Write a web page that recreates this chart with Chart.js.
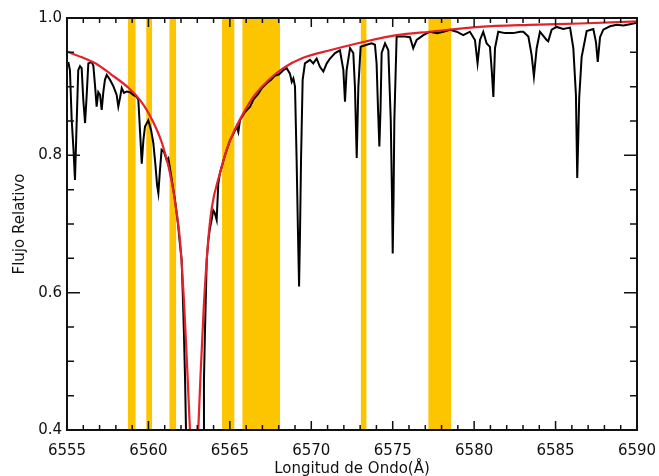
<!DOCTYPE html>
<html>
<head>
<meta charset="utf-8">
<script src="https://cdn.jsdelivr.net/npm/chart.js@4.4.1/dist/chart.umd.min.js"></script>
<style>
  html, body { margin: 0; padding: 0; background: #fff; }
  #wrap { width: 659px; height: 476px; }
</style>
</head>
<body>
<div id="wrap"><canvas id="spectrumChart" width="659" height="476"></canvas></div>
<script>
// masked wavelength windows (yellow)
var bandStart = [6558.73, 6559.86, 6561.28, 6564.52, 6565.76, 6573.03, 6577.18];
var bandEnd   = [6559.22, 6560.22, 6561.71, 6565.29, 6568.08, 6573.40, 6578.60];

// observed spectrum (black)
var specWave = [
  6555.08, 6555.18, 6555.29, 6555.40, 6555.49, 6555.58, 6555.69, 6555.80, 6555.90, 6556.00,
  6556.11, 6556.21, 6556.31, 6556.52, 6556.62, 6556.72, 6556.82, 6556.92, 6557.03, 6557.13,
  6557.23, 6557.33, 6557.44, 6557.64, 6557.84, 6558.05, 6558.15, 6558.25, 6558.36, 6558.50,
  6558.67, 6558.87, 6559.07, 6559.28, 6559.38, 6559.48, 6559.59, 6559.69, 6559.79, 6559.99,
  6560.16, 6560.30, 6560.43, 6560.53, 6560.61, 6560.71, 6560.81, 6560.96, 6561.12, 6561.22,
  6561.39, 6561.63, 6561.82, 6561.94, 6562.04, 6562.12, 6562.18, 6562.25, 6562.31, 6562.37,
  6562.80, 6563.32, 6563.37, 6563.41, 6563.47, 6563.58, 6563.68, 6563.78, 6563.88, 6563.98,
  6564.06, 6564.19, 6564.29, 6564.39, 6564.70, 6565.01, 6565.25, 6565.42, 6565.52, 6565.62,
  6565.93, 6566.24, 6566.44, 6566.73, 6566.97, 6567.26, 6567.53, 6567.77, 6568.02, 6568.28,
  6568.49, 6568.69, 6568.80, 6568.90, 6569.00, 6569.10, 6569.18, 6569.25, 6569.31, 6569.37,
  6569.47, 6569.61, 6569.92, 6570.12, 6570.33, 6570.53, 6570.74, 6570.95, 6571.15, 6571.46,
  6571.76, 6571.97, 6572.07, 6572.17, 6572.38, 6572.58, 6572.68, 6572.79, 6572.89, 6573.03,
  6573.40, 6573.71, 6573.91, 6574.01, 6574.10, 6574.18, 6574.25, 6574.32, 6574.53, 6574.73,
  6574.88, 6574.96, 6575.00, 6575.05, 6575.10, 6575.24, 6575.45, 6575.75, 6576.06, 6576.26,
  6576.47, 6576.88, 6577.29, 6577.72, 6578.11, 6578.52, 6578.93, 6579.33, 6579.74, 6580.05,
  6580.21, 6580.36, 6580.56, 6580.77, 6580.97, 6581.08, 6581.18, 6581.28, 6581.48, 6581.90,
  6582.40, 6582.82, 6583.02, 6583.33, 6583.53, 6583.67, 6583.84, 6584.04, 6584.45, 6584.55,
  6584.76, 6585.07, 6585.47, 6585.89, 6586.09, 6586.25, 6586.33, 6586.39, 6586.45, 6586.60,
  6586.91, 6587.32, 6587.48, 6587.59, 6587.73, 6587.93, 6588.34, 6588.75, 6589.16, 6589.57,
  6589.98
];
var specFlux = [
  0.936, 0.924, 0.851, 0.808, 0.764, 0.837, 0.924, 0.930, 0.927, 0.881,
  0.847, 0.888, 0.934, 0.936, 0.930, 0.902, 0.871, 0.892, 0.888, 0.866,
  0.892, 0.910, 0.917, 0.910, 0.901, 0.888, 0.871, 0.883, 0.898, 0.891,
  0.893, 0.892, 0.888, 0.885, 0.881, 0.837, 0.788, 0.822, 0.842, 0.851,
  0.837, 0.818, 0.786, 0.757, 0.745, 0.779, 0.808, 0.805, 0.793, 0.796,
  0.771, 0.735, 0.699, 0.669, 0.648, 0.589, 0.541, 0.473, 0.396, 0.350,
  0.300, 0.342, 0.395, 0.473, 0.541, 0.648, 0.677, 0.694, 0.706, 0.720,
  0.717, 0.706, 0.759, 0.774, 0.800, 0.822, 0.833, 0.842, 0.834, 0.851,
  0.863, 0.871, 0.881, 0.889, 0.898, 0.905, 0.910, 0.916, 0.918, 0.924,
  0.927, 0.919, 0.907, 0.912, 0.900, 0.793, 0.691, 0.609, 0.691, 0.793,
  0.910, 0.934, 0.939, 0.934, 0.941, 0.929, 0.922, 0.934, 0.941, 0.949,
  0.953, 0.924, 0.878, 0.924, 0.956, 0.949, 0.900, 0.796, 0.900, 0.958,
  0.961, 0.963, 0.961, 0.934, 0.866, 0.813, 0.866, 0.949, 0.963, 0.953,
  0.851, 0.735, 0.657, 0.735, 0.851, 0.973, 0.973, 0.973, 0.972, 0.956,
  0.968, 0.975, 0.980, 0.978, 0.980, 0.983, 0.980, 0.975, 0.980, 0.968,
  0.934, 0.968, 0.980, 0.963, 0.958, 0.924, 0.885, 0.956, 0.980, 0.978,
  0.978, 0.980, 0.980, 0.973, 0.946, 0.915, 0.956, 0.980, 0.968, 0.966,
  0.983, 0.987, 0.984, 0.986, 0.956, 0.888, 0.767, 0.822, 0.883, 0.943,
  0.981, 0.984, 0.965, 0.936, 0.972, 0.983, 0.988, 0.990, 0.989, 0.991,
  0.993
];

// fitted profile (red)
var fitWave = [
  6555.00, 6556.00, 6556.74, 6557.70, 6558.79, 6559.50, 6560.02, 6560.50, 6560.83, 6561.20,
  6561.45, 6561.70, 6561.94, 6562.20, 6562.40, 6562.55, 6562.80, 6563.06, 6563.20, 6563.40,
  6563.67, 6563.90, 6564.39, 6564.80, 6565.20, 6565.80, 6566.44, 6567.30, 6568.28, 6569.50,
  6571.15, 6573.19, 6575.24, 6577.28, 6580.35, 6583.40, 6586.50, 6590.00
];
var fitFlux = [
  0.951, 0.942, 0.934, 0.918, 0.898, 0.880, 0.861, 0.838, 0.818, 0.787,
  0.759, 0.722, 0.676, 0.580, 0.480, 0.400, 0.280, 0.400, 0.480, 0.580,
  0.676, 0.725, 0.774, 0.808, 0.832, 0.860, 0.885, 0.908, 0.927, 0.942,
  0.953, 0.965, 0.975, 0.980, 0.987, 0.990, 0.992, 0.995
];

// axis ticks
var xTickStep = 5, xMinorStep = 1;
var yTickStep = 0.2, yMinorStep = 0.05;

function pairs(xs, ys) {
  return xs.map(function (v, i) { return { x: v, y: ys[i] }; });
}

var datasets = [
  {
    data: pairs(fitWave, fitFlux),
    borderColor: '#e3222b',
    borderWidth: 2.2,
    pointRadius: 0,
    cubicInterpolationMode: 'monotone',
    fill: false
  },
  {
    data: pairs(specWave, specFlux),
    borderColor: '#000',
    borderWidth: 2,
    pointRadius: 0,
    tension: 0,
    fill: false
  }
];
bandStart.forEach(function (s, i) {
  datasets.push({
    data: [{ x: s, y: 1.0 }, { x: bandEnd[i], y: 1.0 }],
    borderWidth: 0,
    borderColor: 'rgba(0,0,0,0)',
    backgroundColor: '#fdc400',
    pointRadius: 0,
    fill: 'start'
  });
});

// IDL-style frame with inward ticks on all four sides
var frameTicks = {
  id: 'frameTicks',
  afterDatasetsDraw: function (chart) {
    var ctx = chart.ctx, a = chart.chartArea;
    var x = chart.scales.x, y = chart.scales.y;
    ctx.save();
    ctx.strokeStyle = '#111';
    ctx.lineWidth = 1.5;
    ctx.beginPath();
    var nx = Math.round((x.max - x.min) / xMinorStep);
    for (var i = 0; i <= nx; i++) {
      var px = x.getPixelForValue(x.min + i * xMinorStep);
      var len = (i % (xTickStep / xMinorStep) === 0) ? 9 : 5;
      ctx.moveTo(px, a.bottom); ctx.lineTo(px, a.bottom - len);
      ctx.moveTo(px, a.top); ctx.lineTo(px, a.top + len);
    }
    var ny = Math.round((y.max - y.min) / yMinorStep);
    for (var k = 0; k <= ny; k++) {
      var py = y.getPixelForValue(y.min + k * yMinorStep);
      var l2 = (k % Math.round(yTickStep / yMinorStep) === 0) ? 13 : 7;
      ctx.moveTo(a.left, py); ctx.lineTo(a.left + l2, py);
      ctx.moveTo(a.right, py); ctx.lineTo(a.right - l2, py);
    }
    ctx.stroke();
    ctx.lineWidth = 2;
    ctx.strokeRect(a.left, a.top, a.right - a.left, a.bottom - a.top);
    ctx.restore();
  }
};

var font = { family: 'DejaVu Sans', size: 15 };
var titleFont = { family: 'DejaVu Sans', size: 15, lineHeight: 1 };

var ctx = document.getElementById('spectrumChart').getContext('2d');
var chart = new Chart(ctx, {
  type: 'line',
  data: { datasets: datasets },
  options: {
    responsive: false,
    animation: false,
    layout: { padding: { left: 0, right: 22, top: 18, bottom: 0 } },
    plugins: {
      legend: { display: false },
      tooltip: { enabled: false },
      filler: { propagate: false }
    },
    scales: {
      x: {
        type: 'linear',
        min: 6555,
        max: 6590,
        grid: { display: false, drawTicks: false },
        border: { display: false },
        ticks: {
          stepSize: xTickStep,
          autoSkip: false,
          maxRotation: 0,
          padding: 12,
          color: '#111',
          font: font,
          callback: function (v) { return String(v); }
        },
        title: {
          display: true,
          text: 'Longitud de Ondo(Å)',
          color: '#111',
          font: titleFont,
          padding: { top: 0, bottom: -1 }
        },
        afterFit: function (s) {
          s.height = 46;
          s.paddingLeft = 0;
          s.paddingRight = 0;
        }
      },
      y: {
        min: 0.4,
        max: 1.0,
        grid: { display: false, drawTicks: false },
        border: { display: false },
        ticks: {
          stepSize: yTickStep,
          padding: 5,
          color: '#111',
          font: font,
          callback: function (v) { return v.toFixed(1); }
        },
        title: {
          display: true,
          text: 'Flujo Relativo',
          color: '#111',
          font: font,
          padding: { top: 11, bottom: 0 }
        },
        afterFit: function (s) { s.width = 67; }
      }
    }
  },
  plugins: [frameTicks]
});
</script>
</body>
</html>
